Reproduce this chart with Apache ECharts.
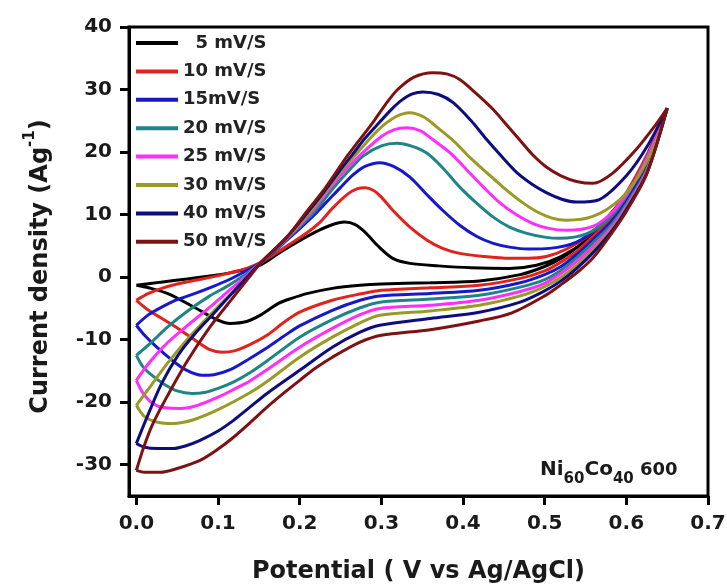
<!DOCTYPE html>
<html><head><meta charset="utf-8">
<script src="https://cdn.jsdelivr.net/npm/echarts@6/dist/echarts.min.js"></script>
<style>html,body{margin:0;padding:0;background:#fff}#c{width:727px;height:587px}</style>
</head><body><div id="c"></div>
<script>
// ---- data (potential V, current density A/g) ----
const seriesNames = ['  5 mV/S', '10 mV/S', '15mV/S', '20 mV/S', '25 mV/S', '30 mV/S', '40 mV/S', '50 mV/S'];
const seriesColors = ['#000000', '#e0231d', '#1717cc', '#1d8585', '#ff2eff', '#9a9a26', '#0d0d80', '#7e1111'];
const potentialTicks = [0, 0.1, 0.2, 0.3, 0.4, 0.5, 0.6, 0.7];
const currentTicks = [-30, -20, -10, 0, 10, 20, 30, 40];

const cv5 = [[0,-1.3],[0.03,-0.8],[0.062,-0.3],[0.09,0.2],[0.112,0.6],[0.135,1.3],[0.153,2.0],[0.174,3.8],[0.194,5.4],[0.219,7.2],[0.238,8.3],[0.255,8.8],[0.268,8.4],[0.28,7.2],[0.295,5.1],[0.314,3.0],[0.335,2.2],[0.37,1.8],[0.41,1.5],[0.457,1.4],[0.49,1.9],[0.52,3.3],[0.55,5.8],[0.58,9.6],[0.6,13.2],[0.625,19],[0.65,27],
  [0.625,18.2],[0.6,13.0],[0.583,10.2],[0.56,7.2],[0.54,4.8],[0.52,3.0],[0.5,1.7],[0.47,0.4],[0.42,-0.6],[0.36,-0.9],[0.3,-1.1],[0.274,-1.3],[0.24,-1.8],[0.21,-2.6],[0.19,-3.4],[0.174,-4.2],[0.153,-6.0],[0.135,-7.1],[0.115,-7.4],[0.097,-6.7],[0.072,-4.9],[0.04,-2.7],[0.015,-1.7],[0,-1.3]];
const cv10 = [[0,-3.7],[0.015,-2.6],[0.031,-1.8],[0.05,-1.1],[0.072,-0.5],[0.092,0],[0.112,0.6],[0.135,1.4],[0.153,2.4],[0.18,4.6],[0.2,6.3],[0.213,7.5],[0.225,8.8],[0.24,11.0],[0.258,13.2],[0.27,14.1],[0.28,14.3],[0.29,13.9],[0.3,12.8],[0.314,10.7],[0.335,8.0],[0.356,5.9],[0.375,4.6],[0.396,3.8],[0.425,3.3],[0.457,3.0],[0.48,3.0],[0.502,3.3],[0.527,4.5],[0.555,6.8],[0.58,10],[0.6,13.5],[0.625,19.5],[0.65,27],
  [0.625,17.8],[0.6,12.6],[0.583,9.6],[0.56,6.6],[0.54,4.2],[0.52,2.4],[0.5,1.0],[0.47,-0.2],[0.42,-1.3],[0.36,-1.7],[0.3,-2.1],[0.274,-2.7],[0.24,-3.7],[0.2,-5.6],[0.18,-7.3],[0.161,-9.2],[0.139,-10.8],[0.12,-11.8],[0.105,-12.0],[0.09,-11.6],[0.072,-10.1],[0.051,-8.2],[0.03,-6.5],[0.015,-5.3],[0,-3.7]];
const cv15 = [[0,-7.7],[0.015,-6.0],[0.031,-4.8],[0.05,-3.6],[0.072,-2.6],[0.092,-1.6],[0.112,-0.5],[0.133,0.9],[0.153,2.4],[0.185,6.0],[0.215,9.6],[0.235,12.3],[0.249,14.2],[0.265,16.3],[0.28,17.7],[0.298,18.3],[0.315,17.7],[0.335,16.0],[0.355,13.3],[0.375,10.7],[0.396,8.3],[0.417,6.5],[0.437,5.4],[0.457,4.8],[0.48,4.5],[0.506,4.6],[0.539,5.6],[0.565,8],[0.59,11.5],[0.61,15],[0.63,20.5],[0.65,27],
  [0.625,17.5],[0.6,12.1],[0.583,9.1],[0.56,6.1],[0.54,3.7],[0.52,1.7],[0.5,0.4],[0.47,-0.9],[0.42,-2.1],[0.36,-2.6],[0.298,-3.0],[0.274,-3.7],[0.24,-5.3],[0.2,-7.8],[0.18,-9.5],[0.16,-11.3],[0.139,-13.0],[0.115,-14.8],[0.095,-15.6],[0.08,-15.7],[0.06,-14.8],[0.043,-13.2],[0.025,-11.2],[0.01,-9.3],[0,-7.7]];
const cv20 = [[0,-12.5],[0.017,-10.6],[0.038,-8.0],[0.062,-5.5],[0.09,-3.0],[0.112,-1.4],[0.133,0.4],[0.153,2.4],[0.185,6.2],[0.215,10.0],[0.241,14.2],[0.26,17.0],[0.278,19.4],[0.3,21.0],[0.319,21.4],[0.338,20.9],[0.356,19.8],[0.375,17.5],[0.396,14.4],[0.417,11.8],[0.437,9.6],[0.457,8.0],[0.478,7.0],[0.5,6.4],[0.518,6.2],[0.551,6.9],[0.58,9.6],[0.605,14],[0.63,20.5],[0.65,27],
  [0.625,17.2],[0.6,11.7],[0.583,8.6],[0.56,5.6],[0.54,3.2],[0.52,1.1],[0.5,-0.4],[0.47,-1.6],[0.42,-2.9],[0.36,-3.5],[0.298,-4.0],[0.274,-4.9],[0.24,-6.8],[0.2,-9.6],[0.16,-13.4],[0.139,-15.3],[0.12,-16.7],[0.1,-17.8],[0.085,-18.4],[0.068,-18.6],[0.05,-18.2],[0.035,-17.2],[0.02,-15.8],[0.008,-14.3],[0,-12.5]];
const cv25 = [[0,-16.5],[0.017,-13.5],[0.038,-10.5],[0.062,-7.8],[0.09,-4.8],[0.112,-2.3],[0.133,0],[0.153,2.4],[0.185,6.3],[0.215,10.5],[0.237,14.2],[0.255,17],[0.274,19.5],[0.3,22.5],[0.316,23.6],[0.331,23.9],[0.348,23.4],[0.363,22.0],[0.385,19.8],[0.405,17.1],[0.425,14.4],[0.445,11.9],[0.465,10.0],[0.485,8.6],[0.505,7.8],[0.527,7.5],[0.559,8.1],[0.585,10.7],[0.61,15.2],[0.632,21],[0.65,27],
  [0.625,17.0],[0.6,11.3],[0.583,8.2],[0.56,5.0],[0.54,2.6],[0.52,0.6],[0.5,-1.0],[0.47,-2.3],[0.42,-3.7],[0.36,-4.5],[0.298,-5.0],[0.274,-6.0],[0.24,-8.2],[0.2,-11.2],[0.16,-14.8],[0.139,-16.6],[0.12,-17.9],[0.1,-19.2],[0.075,-20.5],[0.054,-21.0],[0.035,-20.9],[0.02,-20.2],[0.008,-18.5],[0,-16.5]];
const cv30 = [[0,-20.5],[0.017,-17.5],[0.038,-13.8],[0.062,-10.0],[0.087,-6.5],[0.112,-3.2],[0.133,-0.6],[0.153,2.4],[0.185,6.4],[0.215,10.8],[0.235,14.2],[0.25,16.8],[0.268,19.5],[0.295,23.4],[0.317,25.6],[0.335,26.3],[0.352,25.6],[0.368,24.0],[0.39,21.6],[0.408,19.2],[0.43,16.6],[0.449,14.4],[0.47,12.2],[0.49,10.5],[0.51,9.4],[0.527,9.1],[0.559,9.7],[0.592,12.4],[0.615,16.2],[0.635,21.3],[0.65,27],
  [0.625,16.8],[0.6,11.0],[0.583,7.8],[0.56,4.5],[0.54,2.0],[0.52,0.0],[0.5,-1.5],[0.47,-3.0],[0.42,-4.5],[0.36,-5.4],[0.298,-6.1],[0.274,-7.3],[0.24,-9.6],[0.2,-12.8],[0.16,-16.7],[0.139,-18.5],[0.1,-21.2],[0.07,-22.8],[0.045,-23.4],[0.026,-23.2],[0.01,-22.3],[0,-20.5]];
const cv40 = [[0,-26.6],[0.015,-21.8],[0.031,-17.0],[0.051,-12.5],[0.072,-9.0],[0.097,-5.5],[0.121,-2.0],[0.137,0.2],[0.153,2.4],[0.185,6.5],[0.215,11.2],[0.233,14.2],[0.25,17.2],[0.264,19.5],[0.28,22.2],[0.298,24.8],[0.313,26.9],[0.325,28.3],[0.338,29.3],[0.351,29.6],[0.37,29.2],[0.388,27.9],[0.41,25.0],[0.429,22.0],[0.448,19.2],[0.466,16.7],[0.485,14.8],[0.502,13.5],[0.52,12.5],[0.539,12.0],[0.567,12.4],[0.6,16.2],[0.625,20.8],[0.65,27],
  [0.625,16.6],[0.6,10.8],[0.583,7.5],[0.56,4.0],[0.54,1.5],[0.52,-0.6],[0.5,-2.2],[0.47,-4.0],[0.42,-5.6],[0.36,-6.6],[0.298,-7.7],[0.274,-8.8],[0.24,-11.2],[0.2,-14.9],[0.16,-18.6],[0.139,-20.8],[0.119,-22.9],[0.1,-24.6],[0.078,-26.1],[0.06,-27.0],[0.045,-27.4],[0.026,-27.4],[0.01,-27.2],[0,-26.6]];
const cv50 = [[0,-30.9],[0.009,-27.2],[0.02,-23.5],[0.038,-19.0],[0.062,-13.5],[0.09,-8.0],[0.12,-3.0],[0.137,-0.2],[0.153,2.4],[0.185,6.5],[0.208,10.4],[0.231,14.2],[0.259,19.5],[0.29,24.8],[0.305,27.6],[0.32,30.0],[0.34,32.0],[0.363,32.7],[0.38,32.5],[0.396,31.6],[0.415,29.5],[0.437,26.8],[0.453,24.4],[0.469,22.0],[0.485,19.6],[0.502,17.6],[0.52,16.2],[0.539,15.3],[0.559,15.0],[0.583,16.6],[0.612,20.4],[0.635,24.2],[0.65,27],
  [0.625,16.5],[0.6,10.5],[0.583,7.2],[0.56,3.2],[0.543,1.1],[0.52,-1.2],[0.5,-3.0],[0.46,-5.7],[0.42,-7.0],[0.36,-8.4],[0.3,-9.3],[0.274,-10.4],[0.24,-12.8],[0.22,-14.5],[0.2,-16.5],[0.18,-18.6],[0.16,-20.8],[0.14,-23.2],[0.119,-25.6],[0.1,-27.5],[0.078,-29.3],[0.05,-30.6],[0.029,-31.2],[0.01,-31.2],[0,-30.9]];
const loops = [cv5, cv10, cv15, cv20, cv25, cv30, cv40, cv50];
const sampleLabel = [['Ni', 'main'], ['60', 'sub'], ['Co', 'main'], ['40', 'sub'], [' 600', 'tail']];

// ---- chart ----
const FONT = 'DejaVu Sans';
const chart = echarts.init(document.getElementById('c'), null, {renderer: 'canvas'});
const series = loops.map((d, i) => ({
  name: seriesNames[i],
  type: 'line',
  data: d,
  smooth: 0.3,
  showSymbol: false,
  symbol: 'none',
  lineStyle: {color: seriesColors[i], width: 3},
  itemStyle: {color: seriesColors[i]},
  z: 2 + i,
  animation: false
}));

// sample label: Ni60Co40 600 with subscripts, built from separate text pieces
const pieceStyle = {main: {size: 20, y: 469.5}, sub: {size: 15, y: 479.5}, tail: {size: 18, y: 470.2}};
const mctx = document.createElement('canvas').getContext('2d');
let px = 540;
const labelPieces = sampleLabel.map(([t, kind]) => {
  const st = pieceStyle[kind];
  const font = 'bold ' + st.size + 'px "' + FONT + '"';
  mctx.font = font;
  const el = {type: 'text', x: px, y: st.y, z: 100,
    style: {text: t, font: font, fill: '#1a1a1a', align: 'left', verticalAlign: 'middle'}};
  px += mctx.measureText(t).width;
  return el;
});

chart.setOption({
  animation: false,
  backgroundColor: '#ffffff',
  grid: {left: 129, right: 19, top: 27, bottom: 91, outerBoundsMode: 'none', containLabel: false,
    show: true, borderColor: '#000', borderWidth: 3, backgroundColor: 'transparent'},
  legend: {
    data: seriesNames,
    orient: 'vertical',
    left: 136, top: 34,
    padding: 0,
    icon: 'rect',
    itemWidth: 42, itemHeight: 4,
    itemGap: 10.4,
    textStyle: {fontFamily: FONT, fontWeight: 'bold', fontSize: 18, lineHeight: 18, color: '#222'}
  },
  xAxis: {
    type: 'value', min: -0.009, max: 0.7,
    axisLine: {show: true, onZero: false, lineStyle: {color: '#000', width: 3}},
    axisTick: {show: true, customValues: potentialTicks, length: 9, lineStyle: {color: '#000', width: 3}},
    axisLabel: {customValues: potentialTicks, formatter: v => v.toFixed(1), margin: 18,
      fontFamily: FONT, fontWeight: 'bold', fontSize: 20, color: '#1a1a1a'},
    splitLine: {show: false},
    name: 'Potential ( V vs Ag/AgCl)', nameLocation: 'middle', nameGap: 64,
    nameTextStyle: {fontFamily: FONT, fontWeight: 'bold', fontSize: 24, color: '#1a1a1a'}
  },
  yAxis: {
    type: 'value', min: -35, max: 40,
    axisLine: {show: true, onZero: false, lineStyle: {color: '#000', width: 3}},
    axisTick: {show: true, customValues: currentTicks, length: 9, lineStyle: {color: '#000', width: 3}},
    axisLabel: {customValues: currentTicks, margin: 17,
      fontFamily: FONT, fontWeight: 'bold', fontSize: 20, color: '#1a1a1a'},
    splitLine: {show: false},
    name: '{a|Current density (Ag}{s|-1}{a|)}', nameLocation: 'middle', nameGap: 76, nameRotate: 90,
    nameTextStyle: {
      color: '#1a1a1a',
      padding: [0, 10, 0, 0],
      rich: {
        a: {fontFamily: FONT, fontWeight: 'bold', fontSize: 24, lineHeight: 30, verticalAlign: 'bottom', color: '#1a1a1a'},
        s: {fontFamily: FONT, fontWeight: 'bold', fontSize: 15, lineHeight: 15, verticalAlign: 'top', color: '#1a1a1a'}
      }
    }
  },
  graphic: labelPieces,
  series: series
});
</script></body></html>
